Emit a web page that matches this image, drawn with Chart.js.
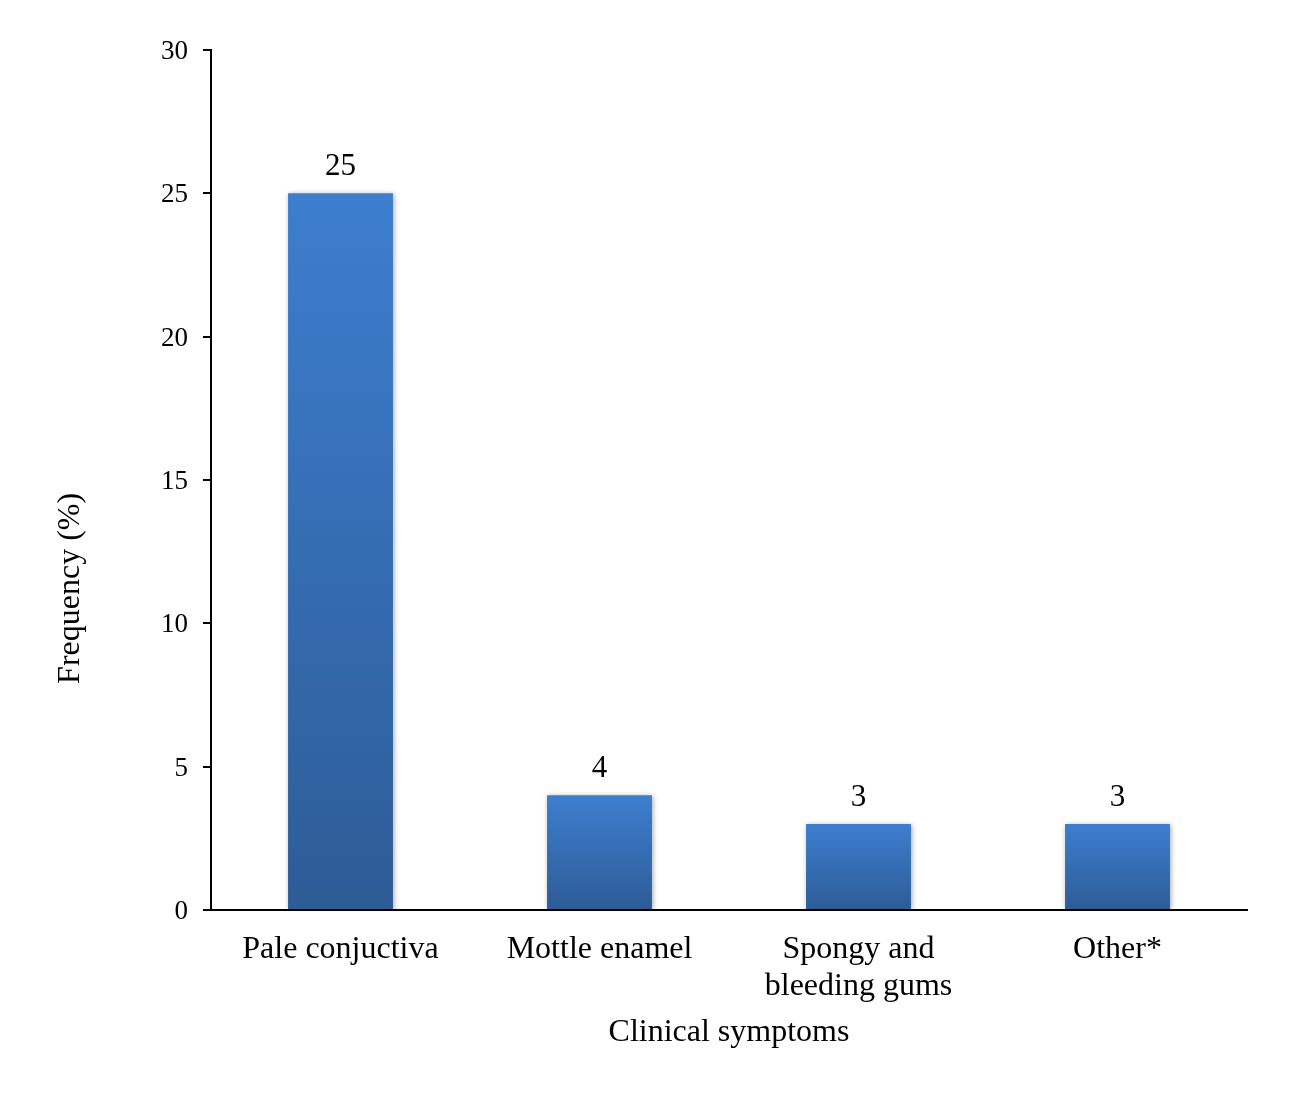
<!DOCTYPE html>
<html>
<head>
<meta charset="utf-8">
<script src="https://cdn.jsdelivr.net/npm/chart.js@4.4.1/dist/chart.umd.min.js"></script>
<style>
  html, body { margin: 0; padding: 0; background: #ffffff; }
  #wrap { width: 1301px; height: 1116px; position: relative; }
</style>
</head>
<body>
<div id="wrap"><canvas id="c" width="1301" height="1116"></canvas></div>
<script>
// Clinical symptom frequencies
const categories = ['Pale conjuctiva', 'Mottle enamel', ['Spongy and', 'bleeding gums'], 'Other*'];
const frequency = [25, 4, 3, 3];
const yTicks = [0, 5, 10, 15, 20, 25, 30];
const xTitle = 'Clinical symptoms';
const yTitle = 'Frequency (%)';

const FONT = "'Liberation Serif', 'Times New Roman', serif";
const TICK_SIZE = 27;
const LABEL_SIZE = 32;
const VALUE_SIZE = 31;

// vertical gradient per bar, light at the top, darker at the base
function barGradient(ctx) {
  const chart = ctx.chart;
  if (!chart.chartArea || ctx.type !== 'data') return '#3570b8';
  const y = chart.scales.y;
  const top = y.getPixelForValue(ctx.raw);
  const bottom = y.getPixelForValue(0);
  const g = chart.ctx.createLinearGradient(0, top, 0, bottom);
  g.addColorStop(0, '#3d7ecf');
  g.addColorStop(1, '#2d5c96');
  return g;
}

// soft drop shadow under the bars
const barShadow = {
  id: 'barShadow',
  beforeDatasetDraw(chart) {
    const c = chart.ctx;
    c.save();
    c.shadowColor = 'rgba(0,0,0,0.35)';
    c.shadowBlur = 5;
    c.shadowOffsetX = 1;
    c.shadowOffsetY = 1;
  },
  afterDatasetDraw(chart) {
    chart.ctx.restore();
  }
};

// value labels above each bar
const valueLabels = {
  id: 'valueLabels',
  afterDatasetsDraw(chart) {
    const c = chart.ctx;
    const meta = chart.getDatasetMeta(0);
    c.save();
    c.font = VALUE_SIZE + 'px ' + FONT;
    c.fillStyle = '#000';
    c.textAlign = 'center';
    c.textBaseline = 'alphabetic';
    meta.data.forEach((bar, i) => {
      c.fillText(String(frequency[i]), bar.x, bar.y - 18);
    });
    c.restore();
  }
};

// rotated y-axis title
const yAxisTitle = {
  id: 'yAxisTitle',
  afterDraw(chart) {
    const c = chart.ctx;
    const a = chart.chartArea;
    c.save();
    c.font = LABEL_SIZE + 'px ' + FONT;
    c.fillStyle = '#000';
    c.textAlign = 'center';
    c.textBaseline = 'middle';
    c.translate(71, a.top + (a.bottom - a.top) * 0.626);
    c.rotate(-Math.PI / 2);
    c.fillText(yTitle, 0, 0);
    c.restore();
  }
};

new Chart(document.getElementById('c'), {
  type: 'bar',
  data: {
    labels: categories,
    datasets: [{
      data: frequency,
      backgroundColor: barGradient,
      borderWidth: 0,
      barPercentage: 0.405,
      categoryPercentage: 1.0
    }]
  },
  options: {
    responsive: false,
    animation: false,
    devicePixelRatio: 1,
    layout: { padding: { top: 50, right: 54, left: 0, bottom: 0 } },
    plugins: {
      legend: { display: false },
      tooltip: { enabled: false }
    },
    scales: {
      x: {
        grid: { display: false, drawTicks: false },
        border: { display: true, color: '#000', width: 2 },
        ticks: {
          color: '#000',
          font: { family: FONT, size: LABEL_SIZE, lineHeight: 1.15 },
          padding: 21,
          maxRotation: 0,
          autoSkip: false
        },
        title: {
          display: true,
          text: xTitle,
          color: '#000',
          font: { family: FONT, size: LABEL_SIZE },
          padding: { top: 0, bottom: 64 }
        },
        afterFit(scale) { scale.height = 206; }
      },
      y: {
        min: 0,
        max: 30,
        afterBuildTicks(scale) { scale.ticks = yTicks.map(v => ({ value: v })); },
        grid: { drawOnChartArea: false, drawTicks: true, tickLength: 8, color: '#000', lineWidth: 2 },
        border: { display: true, color: '#000', width: 2 },
        ticks: {
          color: '#000',
          font: { family: FONT, size: TICK_SIZE },
          padding: 15,
          labelOffset: 2
        },
        afterFit(scale) { scale.width = 211; }
      }
    }
  },
  plugins: [barShadow, valueLabels, yAxisTitle]
});
</script>
</body>
</html>
